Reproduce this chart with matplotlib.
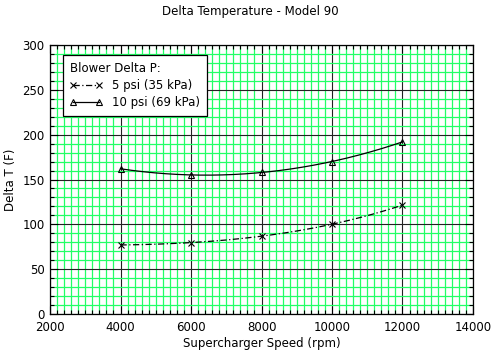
import numpy as np
import matplotlib.pyplot as plt
from matplotlib.ticker import MultipleLocator

# Data
speed = [4000, 6000, 8000, 10000, 12000]
dt_5psi = [77, 79.5, 87, 100, 121.5]
dt_10psi = [162, 155, 158, 170, 192]

fig = plt.figure(figsize=(5, 3.52), dpi=100)
ax = fig.add_axes([0.1, 0.108, 0.846, 0.764])

ax.set_xlim(2000, 14000)
ax.set_ylim(0, 300)

# green minor grid, black major grid
ax.xaxis.set_major_locator(MultipleLocator(2000))
ax.xaxis.set_minor_locator(MultipleLocator(200))
ax.yaxis.set_major_locator(MultipleLocator(50))
ax.yaxis.set_minor_locator(MultipleLocator(10))
ax.grid(which='minor', color='#22ff66', linewidth=0.9)
ax.grid(which='major', color='#222222', linewidth=0.8)
ax.set_axisbelow(True)

ax.tick_params(which='both', direction='in', top=True, right=True, labelsize=8.5, width=0.8)
ax.tick_params(which='major', length=6)
ax.tick_params(which='minor', length=3)
ax.tick_params(axis='x', pad=5)
ax.tick_params(axis='y', pad=4)
for s in ax.spines.values():
    s.set_linewidth(0.9)

# smooth trend through the points (as in the reference)
xs = np.linspace(speed[0], speed[-1], 200)
fit5 = np.polyval(np.polyfit(speed, dt_5psi, 3), xs)
fit10 = np.polyval(np.polyfit(speed, dt_10psi, 3), xs)

dashdot = (0, (5, 2, 1, 2))
ax.plot(xs, fit5, color='black', linestyle=dashdot, linewidth=0.9)
ax.plot(xs, fit10, color='black', linestyle='-', linewidth=0.9)
ax.plot(speed, dt_5psi, linestyle='none', marker='x', color='black', markersize=5, mew=0.8)
ax.plot(speed, dt_10psi, linestyle='none', marker='^', color='black', markersize=4.5,
        mfc='none', mew=0.8)

h1, = ax.plot([], [], color='black', linestyle=dashdot, linewidth=0.9,
              marker='x', markersize=5, mew=0.8, label='5 psi (35 kPa)')
h2, = ax.plot([], [], color='black', linestyle='-', linewidth=0.9,
              marker='^', markersize=4.5, mfc='none', mew=0.8, label='10 psi (69 kPa)')
leg = ax.legend(handles=[h1, h2], title='Blower Delta P:', loc='upper left',
                bbox_to_anchor=(0.03, 0.963), borderaxespad=0, fontsize=8.5,
                title_fontsize=8.5, fancybox=False, edgecolor='black', framealpha=1,
                handlelength=2.8, numpoints=2, borderpad=0.6, labelspacing=0.35)
leg._legend_box.align = 'left'
leg.get_frame().set_linewidth(0.9)

ax.set_xlabel('Supercharger Speed (rpm)', fontsize=8.5, labelpad=2)
ax.set_ylabel('Delta T (F)', fontsize=8.5, labelpad=4)
fig.suptitle('Delta Temperature - Model 90', fontsize=8.5, y=0.985)

fig.savefig('out.png', dpi=100)
